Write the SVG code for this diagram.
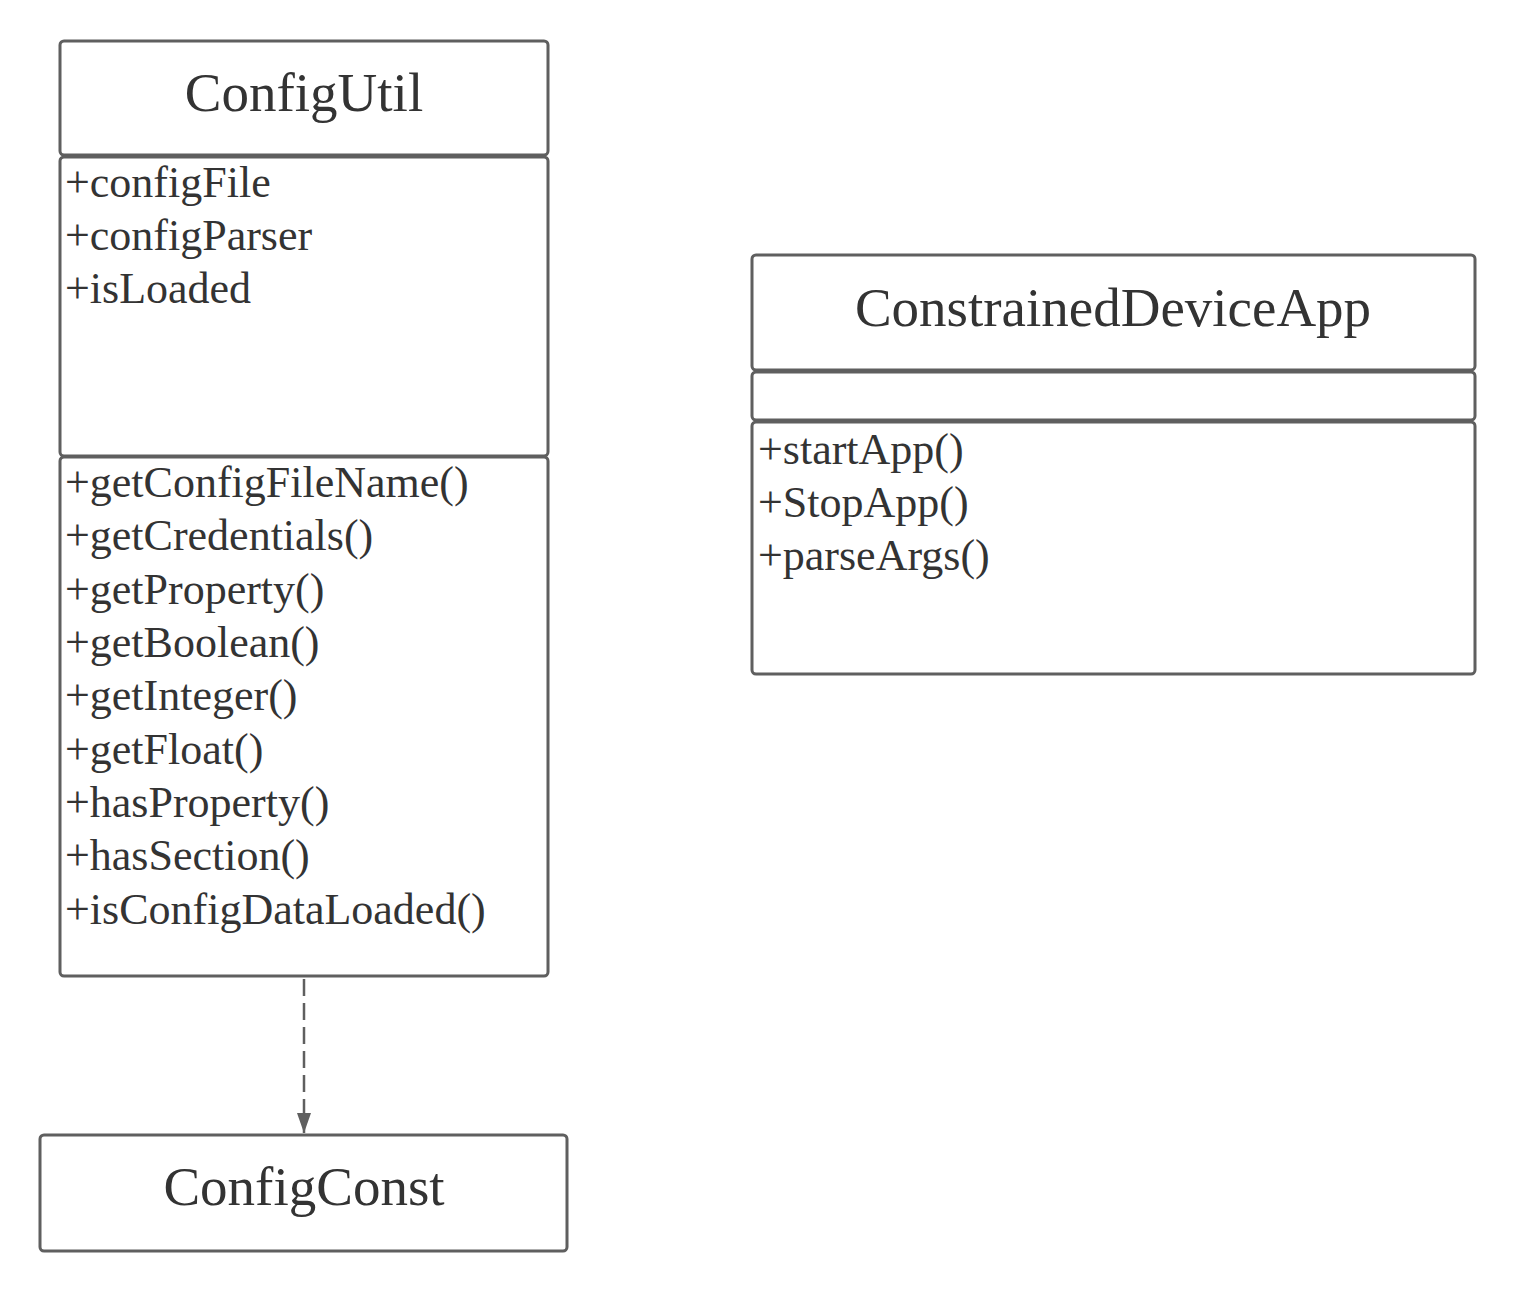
<svg xmlns="http://www.w3.org/2000/svg" width="1516" height="1292" viewBox="0 0 1516 1292">
<style>
.box{fill:#ffffff;stroke:#5f5f5f;stroke-width:3}
.title{font-family:"Liberation Serif","Times New Roman",serif;font-size:55px;fill:#333333;text-anchor:middle}
.mem{font-family:"Liberation Serif","Times New Roman",serif;font-size:44px;fill:#333333}
.conn{stroke:#5f5f5f;stroke-width:2.5;fill:none;stroke-dasharray:17 7}
</style>
<defs>
<marker id="arr" viewBox="0 0 20 14" refX="20" refY="7" markerWidth="20" markerHeight="14" markerUnits="userSpaceOnUse" orient="auto">
<path d="M0,0 L20,7 L0,14 Z" fill="#5f5f5f"/>
</marker>
</defs>
<rect width="1516" height="1292" fill="#ffffff"/>
<g id="connectors">
<path class="conn" d="M304,979 L304,1133" marker-end="url(#arr)"/>
</g>
<g id="ConfigUtil">
<rect class="box" x="60" y="41" width="488" height="114" rx="4"/>
<rect class="box" x="60" y="157" width="488" height="299" rx="4"/>
<rect class="box" x="60" y="457" width="488" height="519" rx="4"/>
<text class="title" x="304" y="111">ConfigUtil</text>
<text class="mem" x="65" y="197">+configFile</text>
<text class="mem" x="65" y="250">+configParser</text>
<text class="mem" x="65" y="303">+isLoaded</text>
<text class="mem" x="65" y="497">+getConfigFileName()</text>
<text class="mem" x="65" y="550">+getCredentials()</text>
<text class="mem" x="65" y="604">+getProperty()</text>
<text class="mem" x="65" y="657">+getBoolean()</text>
<text class="mem" x="65" y="710">+getInteger()</text>
<text class="mem" x="65" y="764">+getFloat()</text>
<text class="mem" x="65" y="817">+hasProperty()</text>
<text class="mem" x="65" y="870">+hasSection()</text>
<text class="mem" x="65" y="924">+isConfigDataLoaded()</text>
</g>
<g id="ConstrainedDeviceApp">
<rect class="box" x="752" y="255" width="723" height="115" rx="4"/>
<rect class="box" x="752" y="372" width="723" height="48" rx="4"/>
<rect class="box" x="752" y="422" width="723" height="252" rx="4"/>
<text class="title" x="1113" y="326">ConstrainedDeviceApp</text>
<text class="mem" x="758" y="464">+startApp()</text>
<text class="mem" x="758" y="517">+StopApp()</text>
<text class="mem" x="758" y="570">+parseArgs()</text>
</g>
<g id="ConfigConst">
<rect class="box" x="40" y="1135" width="527" height="116" rx="4"/>
<text class="title" x="304" y="1205">ConfigConst</text>
</g>
</svg>
